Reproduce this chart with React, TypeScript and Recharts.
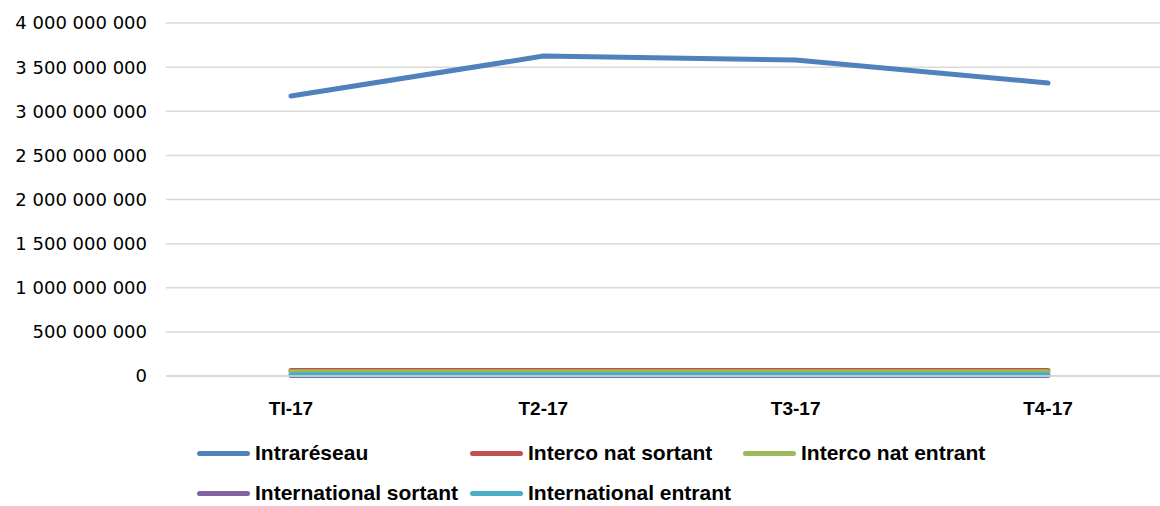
import { LineChart, Line, XAxis, YAxis, CartesianGrid, Legend } from 'recharts'

const quarters = ['TI-17', 'T2-17', 'T3-17', 'T4-17']
const intrareseau = [3172000000, 3625000000, 3582000000, 3320000000]
const intercoNatSortant = [62000000, 63000000, 63000000, 62000000]
const intercoNatEntrant = [48000000, 49000000, 49000000, 48000000]
const internationalSortant = [6000000, 6000000, 6000000, 6000000]
const internationalEntrant = [14000000, 15000000, 15000000, 14000000]
const yTicks = [0, 500000000, 1000000000, 1500000000, 2000000000, 2500000000, 3000000000, 3500000000, 4000000000]

const series = [
  { key: 'intra', name: 'Intraréseau', color: '#4f81bd', values: intrareseau },
  { key: 'ins', name: 'Interco nat sortant', color: '#c0504d', values: intercoNatSortant },
  { key: 'ine', name: 'Interco nat entrant', color: '#9bbb59', values: intercoNatEntrant },
  { key: 'ints', name: 'International sortant', color: '#8064a2', values: internationalSortant },
  { key: 'inte', name: 'International entrant', color: '#4bacc6', values: internationalEntrant },
]

const data = quarters.map((q, i) => {
  const row: Record<string, string | number> = { quarter: q }
  series.forEach(s => { row[s.key] = s.values[i] })
  return row
})

const fmt = (v: number) => String(v).replace(/\B(?=(\d{3})+(?!\d))/g, ' ')

function LegendBox() {
  return (
    <div style={{ position: 'relative', height: 78, width: 1160 }}>
      {series.map((s, i) => {
        const col = i % 3
        const row = Math.floor(i / 3)
        return (
          <div
            key={s.key}
            style={{
              position: 'absolute',
              left: 197 + col * 273,
              top: 27 + row * 40 - 13,
              height: 26,
              display: 'flex',
              alignItems: 'center',
              fontFamily: '"Liberation Sans", Arial, sans-serif',
              fontWeight: 700,
              fontSize: 21,
              color: '#000',
              whiteSpace: 'nowrap',
            }}
          >
            <span style={{ display: 'inline-block', width: 53, height: 5, borderRadius: 3, background: s.color, marginRight: 5 }} />
            {s.name}
          </div>
        )
      })}
    </div>
  )
}

export default function App() {
  return (
    <div style={{ position: 'absolute', left: 0, top: 0, width: 1160, height: 506, background: '#fff' }}>
      <LineChart width={1160} height={506} data={data} margin={{ top: 23, right: 0, left: 0, bottom: 2 }}>
        <CartesianGrid vertical={false} stroke="#d9d9d9" strokeWidth={1.5} />
        <XAxis
          dataKey="quarter"
          height={50}
          padding={{ left: 125, right: 112 }}
          axisLine={{ stroke: '#d9d9d9', strokeWidth: 1.5 }}
          tickLine={false}
          tickMargin={20}
          tick={{ fontSize: 19, fontWeight: 700, fill: '#000', fontFamily: '"Liberation Sans", Arial, sans-serif' }}
        />
        <YAxis
          width={166}
          domain={[0, 4000000000]}
          ticks={yTicks}
          interval={0}
          axisLine={false}
          tickLine={false}
          tickSize={0}
          tickMargin={19}
          tickFormatter={fmt}
          tick={{ fontSize: 18, fill: '#000', fontFamily: '"DejaVu Sans", sans-serif' }}
        />
        <Legend verticalAlign="bottom" content={() => <LegendBox />} wrapperStyle={{ left: 0, width: 1160 }} />
        {series.map(s => (
          <Line
            key={s.key}
            type="linear"
            dataKey={s.key}
            name={s.name}
            stroke={s.color}
            strokeWidth={5}
            strokeLinecap="round"
            dot={false}
            activeDot={false}
            isAnimationActive={false}
          />
        ))}
      </LineChart>
    </div>
  )
}
